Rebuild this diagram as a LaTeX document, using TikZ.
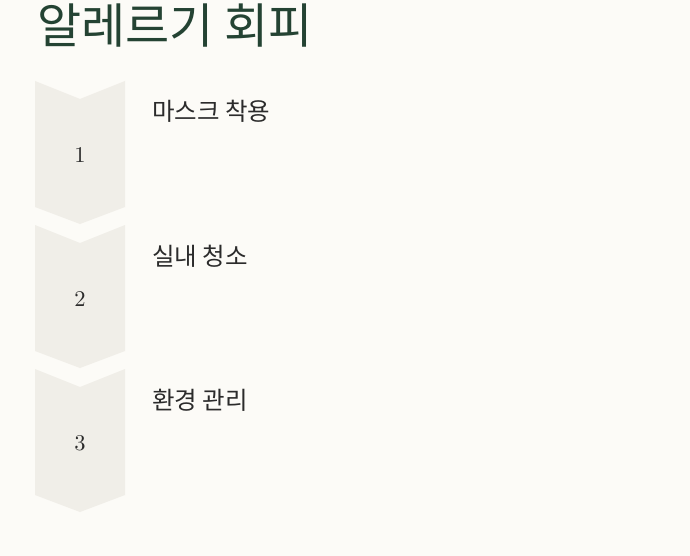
\documentclass[tikz,border=0pt]{standalone}
\usepackage{fontspec}
\newfontfamily\kofont{Noto Sans CJK KR}
\newfontfamily\numfont{lmroman10-regular}[Extension=.otf]
\definecolor{bgcream}{HTML}{FCFBF7}
\definecolor{chevgray}{HTML}{F0EEE8}
\definecolor{titlegreen}{HTML}{244333}
\definecolor{labelgray}{HTML}{2B2B2B}

\begin{document}
\begin{tikzpicture}[x=1pt,y=-1pt]
		\fill[bgcream] (0,0) rectangle (690,556);
		\useasboundingbox (0,0) rectangle (690,556);
		\node[anchor=base west,inner sep=0,text=titlegreen,font=\kofont\fontsize{48}{54}\selectfont] (title) at (37,44) {알레르기 회피};
		\foreach \i/\lbl in {1/마스크 착용,2/실내 청소,3/환경 관리}{
			\pgfmathsetmacro{\ytop}{81+144*(\i-1)}
			\fill[chevgray] (35,\ytop)--(80,\ytop+18)--(125,\ytop)--(125,\ytop+126)--(80,\ytop+143)--(35,\ytop+126)--cycle;
			\node[text=labelgray,font=\numfont\fontsize{22.5}{26}\selectfont] (num\i) at (80,\ytop+74) {\i};
			\node[anchor=base west,inner sep=0,text=labelgray,font=\kofont\fontsize{24.5}{28}\selectfont] (step\i) at (152,\ytop+40) {\lbl};
		}
\end{tikzpicture}
\end{document}
